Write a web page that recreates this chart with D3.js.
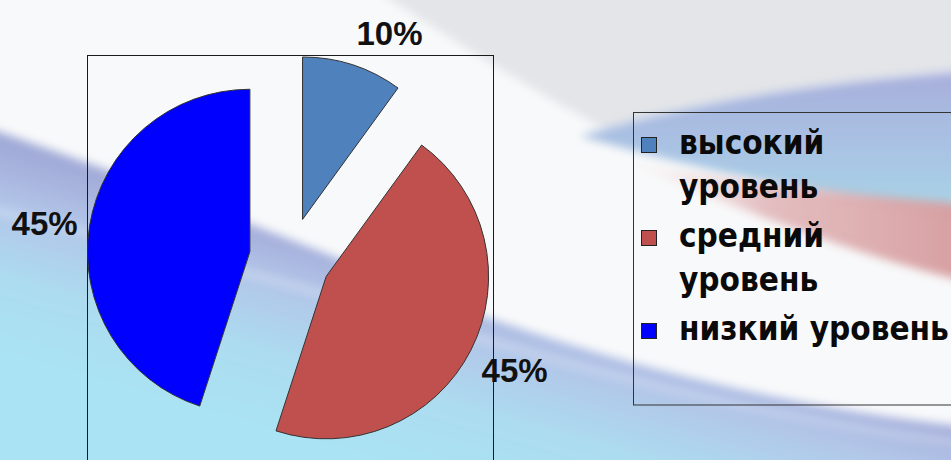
<!DOCTYPE html>
<html>
<head>
<meta charset="utf-8">
<script src="https://cdn.jsdelivr.net/npm/d3@7/dist/d3.min.js"></script>
<style>
  body { margin: 0; background: #fff; overflow: hidden; }
</style>
</head>
<body>
<div id="chart"></div>
<script>
// data
var categories = ["высокий уровень", "средний уровень", "низкий уровень"];
var values = [10, 45, 45];
var percentLabels = ["10%", "45%", "45%"];
var colors = ["#4f81bd", "#c0504d", "#0000ff"];

var w = 951, h = 460;

var svg = d3.select("#chart")
  .append("svg")
  .attr("width", w)
  .attr("height", h);

// slide background (flag waves)
var defs = svg.append("defs");

defs.append("filter").attr("id", "soft")
  .attr("x", -0.2).attr("y", -0.2).attr("width", 1.4).attr("height", 1.4)
  .append("feGaussianBlur").attr("stdDeviation", 5);

var lowGrad = defs.append("linearGradient").attr("id", "lowBand")
  .attr("gradientUnits", "userSpaceOnUse")
  .attr("x1", 475).attr("y1", 268).attr("x2", 416).attr("y2", 476);
[[0, "#9ea8d5"], [0.12, "#a6b0dc"], [0.32, "#b2c6e8"], [0.65, "#acdcf0"], [1, "#a9e3f4"]]
  .forEach(function(s) { lowGrad.append("stop").attr("offset", s[0]).attr("stop-color", s[1]); });

var blueGrad = defs.append("linearGradient").attr("id", "blueBand")
  .attr("x1", 0).attr("y1", 0).attr("x2", 0).attr("y2", 1);
[[0, "#a7aedb"], [0.5, "#a9c2e3"], [1, "#a7d7e7"]]
  .forEach(function(s) { blueGrad.append("stop").attr("offset", s[0]).attr("stop-color", s[1]); });

var redGrad = defs.append("linearGradient").attr("id", "redBand")
  .attr("x1", 0).attr("y1", 0).attr("x2", 1).attr("y2", 0);
[[0, "#f3e6e8", 0], [0.4, "#e0b4b6", 0.85], [1, "#d69c9e", 1]]
  .forEach(function(s) {
    redGrad.append("stop").attr("offset", s[0]).attr("stop-color", s[1]).attr("stop-opacity", s[2]);
  });

var bg = svg.append("g");
bg.append("rect").attr("width", w).attr("height", h).attr("fill", "#f8f9fa");

bg.append("path")
  .attr("d", "M360,-20 L980,-20 L980,72 C820,82 700,105 610,132 C540,95 460,45 360,-20 Z")
  .attr("fill", "#e3e5e8")
  .attr("filter", "url(#soft)");

bg.append("path")
  .attr("d", "M580,136 C700,100 820,82 980,70 L980,222 C840,200 700,170 580,136 Z")
  .attr("fill", "url(#blueBand)")
  .attr("filter", "url(#soft)");

bg.append("path")
  .attr("d", "M620,160 C740,182 850,195 980,205 L980,285 C850,255 730,205 620,160 Z")
  .attr("fill", "url(#redBand)")
  .attr("filter", "url(#soft)");

bg.append("path")
  .attr("d", "M-30,122 C150,182 330,255 480,315 C650,375 820,412 980,428 L980,490 L-30,490 Z")
  .attr("fill", "url(#lowBand)")
  .attr("filter", "url(#soft)");

bg.append("path")
  .attr("d", "M-30,205 C150,245 320,292 480,338 C650,388 820,427 980,445")
  .attr("fill", "none")
  .attr("stroke", "#ffffff")
  .attr("stroke-opacity", 0.3)
  .attr("stroke-width", 6)
  .attr("filter", "url(#soft)");

// plot area
var plotX = 87, plotY = 55, plotSize = 406;
var explode = 0.25;
var radius = plotSize / 2 / (1 + explode);
var cx = plotX + plotSize / 2, cy = plotY + plotSize / 2;

svg.append("rect")
  .attr("x", plotX + 0.5).attr("y", plotY + 0.5)
  .attr("width", plotSize).attr("height", plotSize)
  .attr("fill", "none")
  .attr("stroke", "#1a1a1a")
  .attr("stroke-width", 1);

var pie = d3.pie().sort(null).value(function(d) { return d; });
var arcs = pie(values);

var arc = d3.arc().innerRadius(0).outerRadius(radius);

function dirOf(d) {
  var a = (d.startAngle + d.endAngle) / 2;
  return [Math.sin(a), -Math.cos(a)];
}

var g = svg.append("g").attr("transform", "translate(" + cx + "," + cy + ")");

g.selectAll("path.slice")
  .data(arcs)
  .enter()
  .append("path")
  .attr("class", "slice")
  .attr("d", arc)
  .attr("transform", function(d) {
    var u = dirOf(d);
    return "translate(" + (u[0] * radius * explode) + "," + (u[1] * radius * explode) + ")";
  })
  .attr("fill", function(d, i) { return colors[i]; })
  .attr("stroke", "#333")
  .attr("stroke-width", 1);

// percent labels, placed just outside each slice
var labelGap = 12, labelBox = 50, capH = 23.6;
g.selectAll("text.pct")
  .data(arcs)
  .enter()
  .append("text")
  .attr("class", "pct")
  .attr("text-anchor", "middle")
  .style("font-family", "'Liberation Sans', Arial, sans-serif")
  .style("font-weight", "bold")
  .style("font-size", "33px")
  .attr("fill", "#111")
  .text(function(d, i) { return percentLabels[i]; })
  .each(function(d) {
    var u = dirOf(d);
    var tw = this.getComputedTextLength();
    var r = radius * (1 + explode);
    var px = u[0] * r + u[0] * labelGap + Math.sign(u[0]) * tw / 2;
    var py = u[1] * r + u[1] * labelGap + u[1] * labelBox / 2;
    d3.select(this).attr("x", px).attr("y", py + capH / 2 + 3);
  });

// legend
var legX = 633, legY = 112.5, legW = 340, legH = 292.5;
svg.append("rect")
  .attr("x", legX + 0.5).attr("y", legY)
  .attr("width", legW).attr("height", legH)
  .attr("fill", "none")
  .attr("stroke", "#333")
  .attr("stroke-width", 1);

var legFont = 34, lineH = 44, itemGap = 5, legendTextWidth = 270;
var textX = 679, swatchX = 641, firstBase = 154;

var leg = svg.append("g");
var measure = leg.append("text")
  .style("font-family", "'DejaVu Sans', sans-serif")
  .style("font-weight", "bold")
  .style("font-size", legFont + "px");

function textWidth(s) { measure.text(s); return measure.node().getComputedTextLength(); }

// squeeze factor so the longest single-line entry fills the legend
var squeeze = legendTextWidth / textWidth(categories[categories.length - 1]);

var base = firstBase;
categories.forEach(function(c, i) {
  var words = c.split(" "), lines = [], cur = "";
  words.forEach(function(wd) {
    var t = cur ? cur + " " + wd : wd;
    if (textWidth(t) * squeeze > legendTextWidth + 4 && cur) { lines.push(cur); cur = wd; }
    else cur = t;
  });
  lines.push(cur);

  leg.append("rect")
    .attr("x", swatchX + 0.5).attr("y", base - 16.5)
    .attr("width", 15).attr("height", 15)
    .attr("fill", colors[i])
    .attr("stroke", "#222")
    .attr("stroke-width", 1);

  lines.forEach(function(l, j) {
    leg.append("text")
      .attr("transform", "translate(" + textX + "," + (base + j * lineH) + ") scale(" + squeeze + ",1)")
      .style("font-family", "'DejaVu Sans', sans-serif")
      .style("font-weight", "bold")
      .style("font-size", legFont + "px")
      .attr("fill", "#0a0a0a")
      .text(l);
  });
  base += lines.length * lineH + itemGap;
});
measure.remove();
</script>
</body>
</html>
